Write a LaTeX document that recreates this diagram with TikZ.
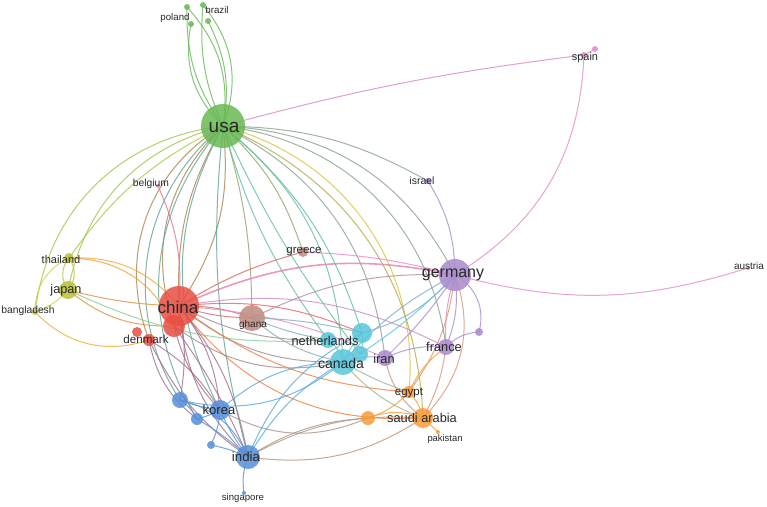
\documentclass[tikz,border=0pt]{standalone}
\usepackage{fontspec}
\setmainfont{Liberation Sans}
\usetikzlibrary{backgrounds}
\definecolor{vgreen}{RGB}{104,184,84}
\definecolor{vred}{RGB}{232,78,66}
\definecolor{vblue}{RGB}{86,142,216}
\definecolor{vyellow}{RGB}{204,212,60}
\definecolor{volive}{RGB}{186,192,60}
\definecolor{vpurple}{RGB}{168,138,204}
\definecolor{vcyan}{RGB}{88,198,218}
\definecolor{vorange}{RGB}{246,156,56}
\definecolor{vbrown}{RGB}{190,140,126}
\definecolor{vpink}{RGB}{226,140,196}
\definecolor{txt}{RGB}{40,40,40}
\newcommand{\fsz}[1]{\fontsize{#1}{#1}\selectfont}

\begin{document}
\begin{tikzpicture}[x=1pt,y=-1pt,
  dot/.style={circle,inner sep=0pt,draw=none,fill opacity=0.85},
  lbl/.style={inner sep=0pt,text=txt},
  link/.style={line width=1pt,draw opacity=0.8}]
\useasboundingbox (0,0) rectangle (767,506);
% countries
\foreach \n/\x/\y/\r/\c in {usa/223/126/22/vgreen, pl1/187/7/3/vgreen, br1/203/5/3/vgreen,
  pl2/191/24/3/vgreen, br2/208/21/3/vgreen, spain/584/55/3/vpink, spaintwo/595/49/3/vpink,
  austria/748/268/2/vpink, israel/428/181/3/vpurple, belgium/158/186/2/vpink,
  greece/303/252/5/vbrown, thai/69/258/5/volive, japan/68/290/9/volive, bangl/35/312/3/volive,
  china/179/306/20/vred, redtwo/174/326/11/vred, redthree/137/332/5/vred, denmark/149/340/6/vred,
  ghana/252/318/13/vbrown, neth/362/333/10/vcyan, cytwo/328/340/8/vcyan, cythree/360/354/8/vcyan,
  canada/343/362/13/vcyan, iran/385/358/8/vpurple, france/446/347/8/vpurple, purtwo/479/332/4/vpurple,
  egypt/409/392/6/vorange, saudi/423/418/10/vorange, oratwo/368/418/7/vorange, pakistan/438/432/2/vorange,
  korea/220/410/10/vblue, blone/180/400/8/vblue, bltwo/197/419/6/vblue, blthree/211/445/4/vblue,
  india/248/457/12/vblue, singa/244/493/2/vblue, germany/455/275/16/vpurple}
  \node[dot,fill=\c,minimum size=2*\r pt] (\n) at (\x,\y) {};
% labels
\foreach \n/\t/\x/\y/\s in {usa/usa/224/127/19, poland/poland/175/18/9.7, brazil/brazil/217/10/9.7,
  spain/spain/585/58/10.9, austria/austria/749/266/10, israel/israel/422/181/10.5,
  belgium/belgium/151/184/10.3, greece/greece/304/252/11.5, thai/thailand/61/260/11,
  japan/japan/66/290/12.7, bangl/bangladesh/28/311/10.3, china/china/178/307/17,
  ghana/ghana/253/325/10, denmark/denmark/146/339/11.6, neth/netherlands/325/341/12.8,
  canada/canada/341/363/14, iran/iran/384/359/12.8, france/france/444/347/12.8,
  egypt/egypt/409/393/11.5, saudi/saudi arabia/422/418/12.8, pakistan/pakistan/445/439/9.4,
  korea/korea/219/410/13, india/india/246/457/13.3, singa/singapore/243/498/9.6,
  germany/germany/453/275/16}
  \node[lbl,font=\fsz{\s}] (\n-l) at (\x,\y) {\t};
\begin{pgfonlayer}{background}
% links (bend > 0: bows to the left of travel)
\foreach \a/\b/\v/\c in {usa/pl1/-25/vgreen, usa/pl1/18/vgreen, usa/br1/-30/vgreen, usa/br1/14/vgreen,
  usa/pl2/28/vgreen, usa/br2/-18/vgreen, usa/spain/4/vpink!70!vpurple, usa/germany/30/vgreen!50!vpurple,
  usa/israel/14/vgreen!50!vpurple, israel/germany/15/vpurple, usa/thai/-14/vgreen!40!vyellow,
  usa/japan/-32/vgreen!50!vyellow, usa/bangl/-38/vgreen!50!vyellow, usa/china/20/vgreen!50!vred,
  usa/china/-16/vgreen!50!vred, usa/redtwo/-32/vgreen!50!vred, usa/denmark/-40/vgreen!50!vred,
  usa/ghana/8/vgreen!50!vbrown, usa/greece/14/vgreen!50!vbrown, usa/neth/16/vgreen!50!vcyan,
  usa/cytwo/-10/vgreen!50!vcyan, usa/canada/24/vgreen!50!vcyan, usa/cythree/-6/vgreen!50!vcyan,
  usa/iran/28/vgreen!50!vpurple, usa/france/38/vgreen!50!vpurple, usa/egypt/40/vyellow!70!vorange,
  usa/saudi/32/vgreen!50!vorange, usa/korea/-28/vgreen!50!vblue, usa/blone/-42/vgreen!50!vblue,
  usa/india/-10/vgreen!50!vblue, usa/bltwo/-36/vgreen!50!vblue, belgium/china/14/vpink!60!vred,
  china/greece/8/vred!60!vbrown, greece/germany/6/vpink, thai/china/26/vorange!70!vyellow,
  japan/china/-6/vyellow!50!vred, japan/redtwo/-20/vyellow!50!vred, thai/redtwo/32/vorange,
  bangl/denmark/-32/vorange!70!vyellow, japan/cytwo/-14/vyellow!40!vcyan, japan/thai/38/volive,
  japan/thai/-38/volive, japan/bangl/14/vyellow, thai/bangl/-32/vyellow,
  china/ghana/10/vred!50!vbrown, china/ghana/-8/vred!50!vbrown, china/neth/14/vred!70!vpink,
  china/cytwo/-14/vred!50!vcyan, china/canada/-20/vred!50!vcyan, china/iran/10/vpink,
  china/france/18/vpink!60!vpurple, china/saudi/-28/vred!40!vorange, china/egypt/-16/vred!40!vorange,
  china/korea/16/vred!50!vblue, china/india/14/vred!50!vblue, china/india/-20/vred!50!vblue,
  china/blone/10/vred!50!vblue, redtwo/korea/-14/vred!50!vblue, redtwo/india/6/vred!50!vblue,
  denmark/korea/14/vred!50!vblue, denmark/india/-14/vred!50!vblue, denmark/bltwo/-20/vred!50!vblue,
  redtwo/canada/-24/vred!50!vcyan, ghana/neth/6/vbrown!40!vcyan, ghana/cytwo/-6/vbrown!40!vcyan,
  ghana/germany/14/vbrown!50!vpurple, ghana/canada/-14/vbrown!50!vcyan, germany/spain/-28/vpink,
  germany/austria/-16/vpink, spain/spaintwo/0/vpink, germany/purtwo/38/vpurple,
  germany/france/14/vpurple, germany/france/-10/vpink, germany/iran/6/vpurple,
  germany/neth/16/vpurple!50!vcyan, germany/canada/-10/vpurple!50!vcyan, germany/cythree/6/vcyan,
  germany/saudi/32/vpurple!40!vorange, germany/egypt/14/vpurple!40!vorange, france/purtwo/20/vpurple,
  iran/france/14/vpurple, iran/saudi/-20/vpurple!50!vorange, france/saudi/10/vorange!60!vpurple,
  france/egypt/-14/vorange, egypt/saudi/14/vorange, oratwo/saudi/20/vorange, oratwo/egypt/-14/vorange,
  saudi/pakistan/0/vorange, canada/saudi/-14/vcyan!50!vorange, canada/egypt/-6/vcyan!60!vorange,
  canada/neth/6/vcyan, canada/cytwo/-20/vcyan, canada/iran/14/vcyan!50!vpurple, neth/cythree/14/vcyan,
  india/saudi/-20/vblue!40!vorange, india/saudi/16/vblue!40!vorange, india/oratwo/14/vblue!50!vorange,
  korea/oratwo/-26/vblue!50!vorange, india/canada/14/vblue!50!vcyan, india/neth/20/vblue!50!vcyan,
  india/singa/-14/vblue, korea/blone/6/vblue, korea/bltwo/6/vblue, korea/india/-6/vblue,
  blone/india/26/vblue, bltwo/india/6/vblue, blthree/india/6/vblue, blthree/korea/-10/vblue,
  blone/bltwo/14/vblue, korea/canada/20/vblue!50!vcyan, blone/canada/-26/vblue!50!vcyan}
  \draw[link,draw=\c] (\a.center) to[bend left=\v] (\b.center);
\draw[link,draw=vpink!80!vred,line width=1.6pt] (china.center) to[bend left=18] (germany.center);
\end{pgfonlayer}
\end{tikzpicture}
\end{document}
